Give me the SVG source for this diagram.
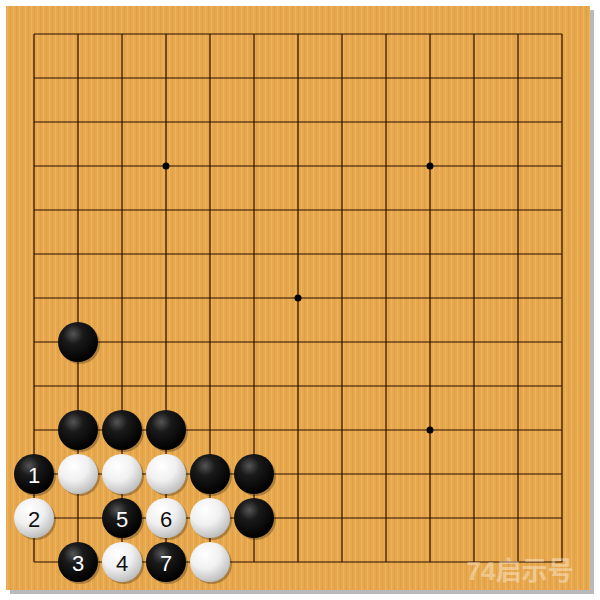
<svg xmlns="http://www.w3.org/2000/svg" width="600" height="600" viewBox="0 0 600 600">
<defs>
<pattern id="wood" width="6" height="600" patternUnits="userSpaceOnUse">
<rect width="6" height="600" fill="#E7A84D"/>
<rect x="1" width="1" height="600" fill="#EDB560" opacity="0.8"/>
<rect x="4" width="1" height="600" fill="#DC9D44" opacity="0.7"/>
</pattern>
<radialGradient id="gb" cx="0.38" cy="0.3" r="0.7">
<stop offset="0" stop-color="#555"/>
<stop offset="0.35" stop-color="#1a1a1a"/>
<stop offset="1" stop-color="#000"/>
</radialGradient>
<radialGradient id="gw" cx="0.38" cy="0.3" r="0.75">
<stop offset="0" stop-color="#ffffff"/>
<stop offset="0.5" stop-color="#f0f0f0"/>
<stop offset="1" stop-color="#b8b8b8"/>
</radialGradient>
<style>
.g line{stroke:#2a0c00;stroke-width:1.2}
.b{fill:url(#gb)}
.w{fill:url(#gw)}
.sh{fill:#000;opacity:0.25}
.t{font-family:"Liberation Sans",Arial,sans-serif;font-size:22px;text-anchor:middle;dominant-baseline:central}
.tb{fill:#fff}
.tw{fill:#111}
</style>
</defs>
<rect width="600" height="600" fill="#fff"/>
<rect x="10" y="10" width="584" height="584" fill="#8a8a8a" opacity="0.6"/>
<rect x="6" y="6" width="584" height="584" fill="url(#wood)"/>
<g class="g" id="grid">
<line x1="34" y1="34" x2="562" y2="34"/><line x1="34" y1="78" x2="562" y2="78"/><line x1="34" y1="122" x2="562" y2="122"/><line x1="34" y1="166" x2="562" y2="166"/><line x1="34" y1="210" x2="562" y2="210"/><line x1="34" y1="254" x2="562" y2="254"/><line x1="34" y1="298" x2="562" y2="298"/><line x1="34" y1="342" x2="562" y2="342"/><line x1="34" y1="386" x2="562" y2="386"/><line x1="34" y1="430" x2="562" y2="430"/><line x1="34" y1="474" x2="562" y2="474"/><line x1="34" y1="518" x2="562" y2="518"/><line x1="34" y1="562" x2="562" y2="562"/>
<line x1="34" y1="34" x2="34" y2="562"/><line x1="78" y1="34" x2="78" y2="562"/><line x1="122" y1="34" x2="122" y2="562"/><line x1="166" y1="34" x2="166" y2="562"/><line x1="210" y1="34" x2="210" y2="562"/><line x1="254" y1="34" x2="254" y2="562"/><line x1="298" y1="34" x2="298" y2="562"/><line x1="342" y1="34" x2="342" y2="562"/><line x1="386" y1="34" x2="386" y2="562"/><line x1="430" y1="34" x2="430" y2="562"/><line x1="474" y1="34" x2="474" y2="562"/><line x1="518" y1="34" x2="518" y2="562"/><line x1="562" y1="34" x2="562" y2="562"/>
</g>
<g id="stars" fill="#000">
<circle cx="166" cy="166" r="3.5"/><circle cx="430" cy="166" r="3.5"/><circle cx="298" cy="298" r="3.5"/><circle cx="430" cy="430" r="3.5"/><circle cx="166" cy="430" r="3.5"/>
</g>
<g id="shadows">
<circle class="sh" cx="80" cy="344" r="20"/>
<circle class="sh" cx="80" cy="432" r="20"/><circle class="sh" cx="124" cy="432" r="20"/><circle class="sh" cx="168" cy="432" r="20"/>
<circle class="sh" cx="36" cy="476" r="20"/><circle class="sh" cx="80" cy="476" r="20"/><circle class="sh" cx="124" cy="476" r="20"/><circle class="sh" cx="168" cy="476" r="20"/><circle class="sh" cx="212" cy="476" r="20"/><circle class="sh" cx="256" cy="476" r="20"/>
<circle class="sh" cx="36" cy="520" r="20"/><circle class="sh" cx="124" cy="520" r="20"/><circle class="sh" cx="168" cy="520" r="20"/><circle class="sh" cx="212" cy="520" r="20"/><circle class="sh" cx="256" cy="520" r="20"/>
<circle class="sh" cx="80" cy="564" r="20"/><circle class="sh" cx="124" cy="564" r="20"/><circle class="sh" cx="168" cy="564" r="20"/><circle class="sh" cx="212" cy="564" r="20"/>
</g>
<g id="s_b1"><circle class="b" cx="78" cy="342" r="20"/></g>
<g id="s_b2"><circle class="b" cx="78" cy="430" r="20"/></g>
<g id="s_b3"><circle class="b" cx="122" cy="430" r="20"/></g>
<g id="s_b4"><circle class="b" cx="166" cy="430" r="20"/></g>
<g id="s_w1"><circle class="w" cx="78" cy="474" r="20"/></g>
<g id="s_w2"><circle class="w" cx="122" cy="474" r="20"/></g>
<g id="s_w3"><circle class="w" cx="166" cy="474" r="20"/></g>
<g id="s_b5"><circle class="b" cx="210" cy="474" r="20"/></g>
<g id="s_b6"><circle class="b" cx="254" cy="474" r="20"/></g>
<g id="s_b7"><circle class="b" cx="254" cy="518" r="20"/></g>
<g id="s_w4"><circle class="w" cx="210" cy="518" r="20"/></g>
<g id="s_w5"><circle class="w" cx="210" cy="562" r="20"/></g>
<g id="m1"><circle class="b" cx="34" cy="474" r="20"/><text class="t tb" x="34" y="475">1</text></g>
<g id="m2"><circle class="w" cx="34" cy="518" r="20"/><text class="t tw" x="34" y="519">2</text></g>
<g id="m3"><circle class="b" cx="78" cy="562" r="20"/><text class="t tb" x="78" y="563">3</text></g>
<g id="m4"><circle class="w" cx="122" cy="562" r="20"/><text class="t tw" x="122" y="563">4</text></g>
<g id="m5"><circle class="b" cx="122" cy="518" r="20"/><text class="t tb" x="122" y="519">5</text></g>
<g id="m6"><circle class="w" cx="166" cy="518" r="20"/><text class="t tw" x="166" y="519">6</text></g>
<g id="m7"><circle class="b" cx="166" cy="562" r="20"/><text class="t tb" x="166" y="563">7</text></g>
<text x="520" y="580" font-family="'Liberation Sans','Noto Sans CJK SC',sans-serif" font-size="26" font-weight="bold" fill="#fff" opacity="0.35" text-anchor="middle">74启示号</text>
</svg>
